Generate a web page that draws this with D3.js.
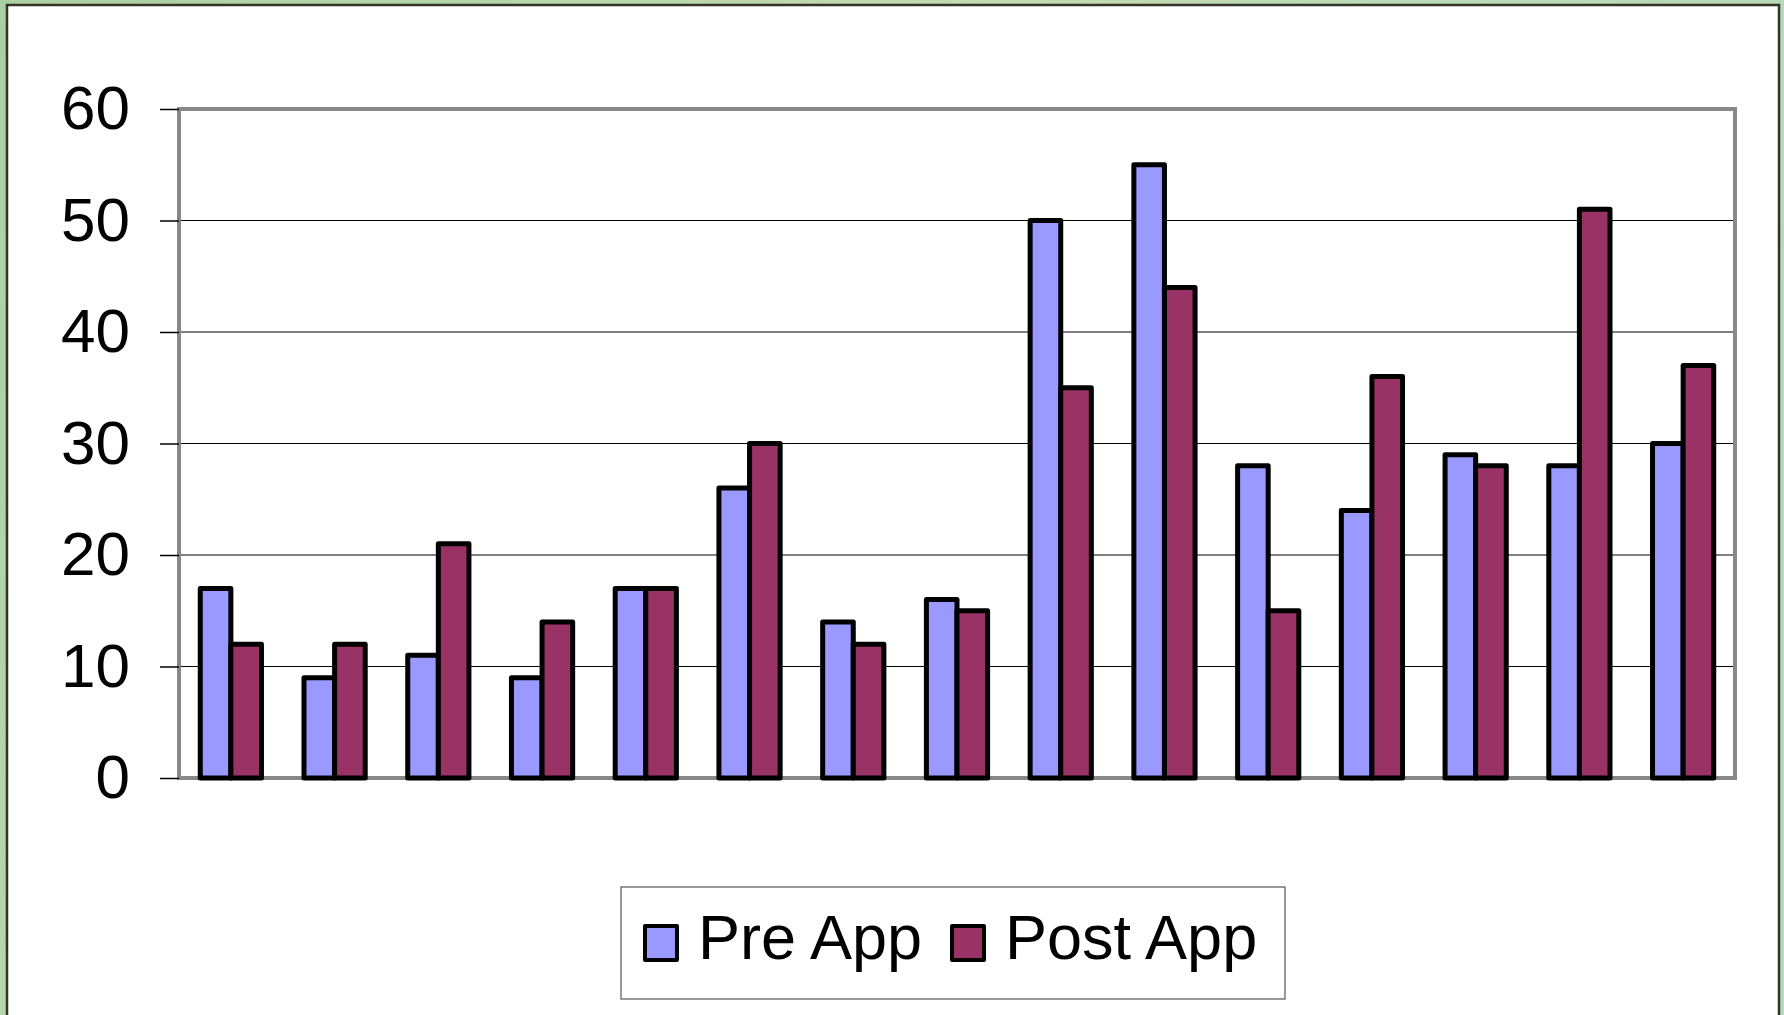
<!DOCTYPE html>
<html>
<head>
<meta charset="utf-8">
<script src="https://cdn.jsdelivr.net/npm/d3@7"></script>
<style>
  body { margin: 0; background: #b9d7b1; overflow: hidden; }
  text { font-family: "Liberation Sans", Arial, sans-serif; }
</style>
</head>
<body>
<div id="chart-div"></div>
<script>
var categories = ["1", "2", "3", "4", "5", "6", "7", "8", "9", "10", "11", "12", "13", "14", "15"];
var series = ["Pre App", "Post App"];
var preApp  = [17, 9, 11, 9, 17, 26, 14, 16, 50, 55, 28, 24, 29, 28, 30];
var postApp = [12, 12, 21, 14, 17, 30, 12, 15, 35, 44, 15, 36, 28, 51, 37];
var yTicks = [0, 10, 20, 30, 40, 50, 60];

var width = 1784,
    height = 1015;

var color = d3.scaleOrdinal()
  .domain(series)
  .range(["#9999ff", "#993366"]);

var rows = categories.map(function(c, i) {
  return { cat: c, values: [{ key: series[0], v: preApp[i] }, { key: series[1], v: postApp[i] }] };
});

var svg = d3.select("#chart-div").append("svg")
    .attr("width", width)
    .attr("height", height);

// green page texture behind the white chart panel
var defs = svg.append("defs");
var grad = defs.append("linearGradient").attr("id", "bg").attr("x1", 0).attr("x2", 1).attr("y1", 0).attr("y2", 0.3);
grad.append("stop").attr("offset", "0%").attr("stop-color", "#a9d0a3");
grad.append("stop").attr("offset", "50%").attr("stop-color", "#c3dbb0");
grad.append("stop").attr("offset", "100%").attr("stop-color", "#b3dab9");
svg.append("rect").attr("width", width).attr("height", height).attr("fill", "url(#bg)");

svg.append("rect")
    .attr("x", 7).attr("y", 5)
    .attr("width", 1772).attr("height", 1030)
    .attr("fill", "#fff")
    .attr("stroke", "#333328")
    .attr("stroke-width", 2.5);

var plotLeft = 179, plotRight = 1735, plotTop = 109, plotBottom = 778;

var x0 = d3.scaleBand()
    .domain(categories)
    .range([plotLeft, plotRight])
    .paddingInner(0.41)
    .paddingOuter(0.205);

var x1 = d3.scaleBand()
    .domain(series)
    .range([0, x0.bandwidth()]);

var y = d3.scaleLinear()
    .domain([0, 60])
    .range([plotBottom, plotTop]);

// gridlines
svg.append("g")
  .selectAll("line")
  .data(yTicks.slice(1, -1))
  .enter().append("line")
    .attr("x1", plotLeft).attr("x2", plotRight)
    .attr("y1", function(d) { return y(d); })
    .attr("y2", function(d) { return y(d); })
    .attr("stroke", "#000")
    .attr("stroke-width", 1.2);

// plot frame
svg.append("rect")
    .attr("x", plotLeft).attr("y", plotTop)
    .attr("width", plotRight - plotLeft).attr("height", plotBottom - plotTop)
    .attr("fill", "none")
    .attr("stroke", "#888")
    .attr("stroke-width", 4);

// y axis
var yAxis = d3.axisLeft(y)
    .tickValues(yTicks)
    .tickSize(19)
    .tickPadding(30);

var ax = svg.append("g")
    .attr("transform", "translate(" + plotLeft + ",0)")
    .call(yAxis);
ax.select(".domain").remove();
ax.selectAll(".tick line").attr("stroke", "#000").attr("stroke-width", 1.5);
ax.selectAll(".tick text")
    .attr("font-size", 62)
    .attr("fill", "#000")
    .attr("font-family", "Liberation Sans, Arial, sans-serif");

// bars
var group = svg.append("g")
  .selectAll("g")
  .data(rows)
  .enter().append("g")
    .attr("transform", function(d) { return "translate(" + x0(d.cat) + ",0)"; });

group.selectAll("rect")
  .data(function(d) { return d.values; })
  .enter().append("rect")
    .attr("x", function(d) { return x1(d.key); })
    .attr("width", x1.bandwidth())
    .attr("y", function(d) { return y(d.v); })
    .attr("height", function(d) { return y(0) - y(d.v); })
    .attr("fill", function(d) { return color(d.key); })
    .attr("stroke", "#000")
    .attr("stroke-width", 5)
    .attr("stroke-linejoin", "round");

// legend
var legend = svg.append("g");
legend.append("rect")
    .attr("x", 621).attr("y", 887)
    .attr("width", 664).attr("height", 112)
    .attr("fill", "#fff")
    .attr("stroke", "#555")
    .attr("stroke-width", 1.2);

var legX = [645, 952];

var item = legend.selectAll(".item")
  .data(series)
  .enter().append("g")
    .attr("class", "item")
    .attr("transform", function(d, i) { return "translate(" + legX[i] + ",926)"; });

item.append("rect")
    .attr("width", 32).attr("height", 34)
    .attr("fill", function(d) { return color(d); })
    .attr("stroke", "#000")
    .attr("stroke-width", 4)
    .attr("stroke-linejoin", "round");

item.append("text")
    .attr("x", 53)
    .attr("y", 33)
    .attr("font-size", 63)
    .text(function(d) { return d; });
</script>
</body>
</html>
